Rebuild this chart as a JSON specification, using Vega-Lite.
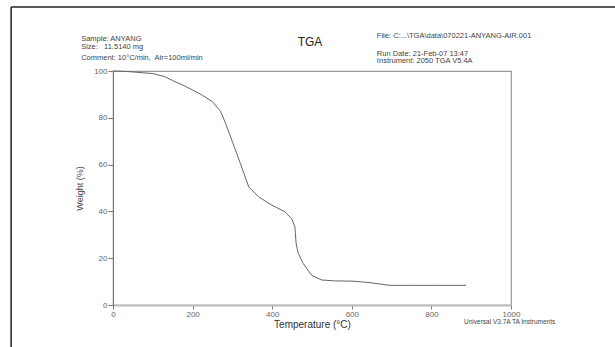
{
  "$schema": "https://vega.github.io/schema/vega-lite/v6.json",
  "width": 398,
  "height": 234,
  "autosize": {"type": "none"},
  "padding": {"left": 113, "top": 71, "right": 104, "bottom": 42},
  "background": "white",
  "config": {
    "font": "Liberation Sans",
    "view": {"stroke": "#999", "strokeWidth": 1.2},
    "axis": {"labelFont": "Liberation Sans", "titleFont": "Liberation Sans", "grid": false}
  },
  "layer": [
    {
      "data": {
        "values": [
          {"T": 0, "W": 100}, {"T": 20, "W": 99.9}, {"T": 50, "W": 99.6}, {"T": 100, "W": 98.9},
          {"T": 130, "W": 97.6}, {"T": 150, "W": 95.9}, {"T": 175, "W": 94.0}, {"T": 200, "W": 91.9},
          {"T": 225, "W": 89.6}, {"T": 250, "W": 86.9}, {"T": 270, "W": 82.8}, {"T": 283, "W": 77.6},
          {"T": 300, "W": 69.8}, {"T": 320, "W": 60.5}, {"T": 341, "W": 50.5}, {"T": 366, "W": 46.2},
          {"T": 399, "W": 42.7}, {"T": 432, "W": 39.8}, {"T": 449, "W": 36.9}, {"T": 457, "W": 33.4},
          {"T": 460, "W": 26.5}, {"T": 465, "W": 22.3}, {"T": 478, "W": 17.7}, {"T": 499, "W": 12.7},
          {"T": 524, "W": 10.7}, {"T": 557, "W": 10.3}, {"T": 600, "W": 10.2}, {"T": 638, "W": 9.7},
          {"T": 696, "W": 8.4}, {"T": 750, "W": 8.4}, {"T": 805, "W": 8.4}, {"T": 887, "W": 8.4}
        ]
      },
      "mark": {"type": "line", "color": "#666", "strokeWidth": 1},
      "encoding": {
        "x": {
          "field": "T", "type": "quantitative",
          "scale": {"domain": [0, 1000], "nice": false, "zero": false},
          "axis": {
            "title": "Temperature (°C)", "format": "d",
            "values": [0, 50, 100, 150, 200, 250, 300, 350, 400, 450, 500, 550, 600, 650, 700, 750, 800, 850, 900, 950, 1000],
            "labelExpr": "datum.value % 200 === 0 ? datum.label : ''",
            "labelOverlap": false, "labelBound": false, "labelFlush": false,
            "labelFontSize": 8, "labelColor": "#666", "labelPadding": 1,
            "tickSize": {"condition": {"test": "datum.value % 200 === 0", "value": 4}, "value": 2},
            "tickColor": "#777", "domainColor": "#bbb", "domainWidth": 2,
            "titleFontSize": 10, "titleFontWeight": "normal", "titleColor": "#333", "titlePadding": 1
          }
        },
        "y": {
          "field": "W", "type": "quantitative",
          "scale": {"domain": [0, 100], "nice": false, "zero": false},
          "axis": {
            "title": "Weight (%)", "format": "d",
            "values": [0, 5, 10, 15, 20, 25, 30, 35, 40, 45, 50, 55, 60, 65, 70, 75, 80, 85, 90, 95, 100],
            "labelExpr": "datum.value % 20 === 0 ? datum.label : ''",
            "labelOverlap": false, "labelBound": false, "labelFlush": false,
            "labelFontSize": 8, "labelColor": "#666", "labelPadding": 1,
            "tickSize": {"condition": {"test": "datum.value % 20 === 0", "value": 5}, "value": 2},
            "tickColor": "#777", "domainColor": "#777", "domainWidth": 1,
            "titleFontSize": 9, "titleFontWeight": "normal", "titleColor": "#444", "titlePadding": 9
          }
        }
      }
    },
    {
      "data": {"values": [{}]},
      "mark": {"type": "rule", "color": "#222", "strokeWidth": 1.5, "clip": false},
      "encoding": {"x": {"datum": -256}, "y": {"datum": -20}, "y2": {"datum": 127.4}}
    },
    {
      "data": {"values": [{}]},
      "mark": {"type": "rule", "color": "#222", "strokeWidth": 1.5, "clip": false},
      "encoding": {"y": {"datum": 127.4}, "x": {"datum": -256}, "x2": {"datum": 1262}}
    },
    {
      "data": {"values": [{}]},
      "mark": {"type": "text", "align": "left", "baseline": "middle", "fontSize": 7.5, "color": "#444", "lineHeight": 7.5},
      "encoding": {"x": {"datum": -80}, "y": {"datum": 113.5}, "text": {"value": ["Sample: ANYANG", "Size:\u00a0\u00a0 11.5140 mg"]}}
    },
    {
      "data": {"values": [{}]},
      "mark": {"type": "text", "align": "left", "baseline": "middle", "fontSize": 7.5, "color": "#444"},
      "encoding": {"x": {"datum": -80}, "y": {"datum": 105.6}, "text": {"value": "Comment: 10°C/min,\u00a0 Air=100ml/min"}}
    },
    {
      "data": {"values": [{}]},
      "mark": {"type": "text", "align": "center", "baseline": "middle", "fontSize": 12, "color": "#222"},
      "encoding": {"x": {"datum": 495}, "y": {"datum": 112.4}, "text": {"value": "TGA"}}
    },
    {
      "data": {"values": [{}]},
      "mark": {"type": "text", "align": "left", "baseline": "middle", "fontSize": 7.5, "color": "#444"},
      "encoding": {"x": {"datum": 663}, "y": {"datum": 115}, "text": {"value": "File: C:...\\TGA\\data\\070221-ANYANG-AIR.001"}}
    },
    {
      "data": {"values": [{}]},
      "mark": {"type": "text", "align": "left", "baseline": "middle", "fontSize": 7.5, "color": "#444", "lineHeight": 7.5},
      "encoding": {"x": {"datum": 663}, "y": {"datum": 107.4}, "text": {"value": ["Run Date: 21-Feb-07 13:47", "Instrument: 2050 TGA V5.4A"]}}
    },
    {
      "data": {"values": [{}]},
      "mark": {"type": "text", "align": "left", "baseline": "middle", "fontSize": 6.5, "color": "#444"},
      "encoding": {"x": {"datum": 882}, "y": {"datum": -7.3}, "text": {"value": "Universal V3.7A TA Instruments"}}
    }
  ]
}
